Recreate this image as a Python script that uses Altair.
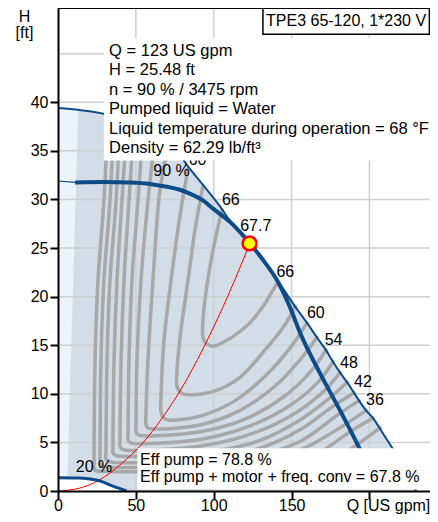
import altair as alt
import pandas as pd

FONT = "Liberation Sans"
X_MAX = 238.9
Y_MAX = 49.7

# ---------------- data ----------------
# maximum curve (thin blue)
MAX_Q = [0, 14, 30, 45, 60, 70, 79, 83.5, 93.1, 105.3, 110, 123.2, 132, 141.3, 152.2, 159.9,
         166.3, 172.1, 176.6, 181.1, 185.6, 190.1, 193.3, 197.8, 202.3, 208, 214.4, 220, 226, 230]
MAX_H = [39.4, 39.2, 38.8, 38.0, 36.8, 35.6, 34.4, 33.4, 31.5, 29.0, 27.9, 25.6, 23.8, 21.6, 19.0, 17.3,
         15.8, 14.5, 13.3, 12.2, 11.2, 10.1, 9.3, 8.3, 7.5, 6.1, 4.5, 3.0, 1.3, 0]
# left edge of the darker field
EDGE_Q = [6, 13]
EDGE_H = [1.37, 39.1]
# 90 % speed curve (thick)
N90_Q = [11, 30, 45, 59, 70, 78.3, 86, 93.1, 100, 110.4, 123.2, 132, 141.3, 149, 155.4, 168.3, 181.1, 193.3, 200, 206]
N90_H = [31.75, 31.8, 31.75, 31.6, 31.3, 31.0, 30.5, 29.9, 29.0, 27.7, 25.48, 23.7, 21.5, 18.9, 16.3, 12.1, 8.3, 4.5, 2.3, 0.4]
N90_THIN_Q = [0, 11]
N90_THIN_H = [31.9, 31.75]
# 20 % speed curve
N20_Q = [0, 13, 20.5, 27, 35.3, 44]
N20_H = [1.37, 1.35, 1.23, 1.03, 0.5, 0]
# system curve (red)
SYS_Q = [0, 14, 33, 41, 52.5, 68.6, 79.5, 93, 110, 123.2]
SYS_H = [0, 0.3, 1.8, 2.85, 4.6, 7.9, 10.6, 14.6, 20.4, 25.48]
# duty point
DUTY_Q = [123]
DUTY_H = [25.48]

# efficiency contours (eta [%] : Q list, H list)
CONTOURS = {
    66: ([105.3, 100.2, 95.7, 93.1, 93.1, 95.0, 99.6, 110.5, 122.0, 131.7, 137.4, 141.3],
         [28.9, 25.3, 21.2, 17.6, 15.8, 15.2, 14.9, 15.7, 17.1, 19.0, 20.5, 21.5]),
    63: ([93.1, 88.0, 83.5, 79.0, 76.4, 76.4, 79.0, 84.8, 100.8, 116.9, 132.9, 145.8, 152.2],
         [31.4, 26.9, 21.7, 16.6, 12.4, 10.8, 10.1, 9.9, 10.3, 11.7, 14.5, 17.1, 19.0]),
    60: ([83.5, 78.4, 72.6, 68.1, 66.2, 66.2, 68.1, 70.6, 91.2, 113.7, 132.9, 149.0, 159.9],
         [33.2, 28.4, 21.7, 15.5, 9.9, 8.1, 7.5, 7.3, 7.7, 9.3, 11.8, 14.7, 17.3]),
    57: ([70.6, 65.5, 61.0, 57.8, 56.5, 56.5, 57.8, 59.7, 91.2, 116.9, 139.4, 155.4, 166.3],
         [35.3, 31.0, 21.7, 13.5, 7.8, 6.8, 6.5, 6.4, 6.8, 8.3, 10.8, 13.5, 15.8]),
    54: ([62.3, 57.8, 53.3, 50.7, 50.1, 50.1, 51.4, 53.3, 91.2, 120.1, 145.8, 161.8, 172.1],
         [36.5, 29.9, 21.7, 13.5, 6.8, 6.1, 5.8, 5.7, 6.1, 7.4, 9.8, 12.2, 14.5]),
    51: ([54.6, 51.4, 47.5, 45.6, 45.0, 45.0, 46.2, 48.2, 91.2, 123.3, 149.0, 167.0, 176.6],
         [37.2, 29.9, 21.7, 13.5, 6.1, 5.3, 5.0, 4.9, 5.3, 6.7, 8.8, 11.2, 13.3]),
    48: ([48.8, 45.6, 42.4, 40.5, 39.8, 39.8, 41.1, 43.7, 91.2, 126.5, 152.2, 171.5, 181.1],
         [37.7, 29.9, 21.7, 13.5, 5.2, 4.6, 4.3, 4.2, 4.6, 6.0, 8.0, 10.4, 12.2]),
    45: ([44.3, 41.1, 37.9, 36.0, 35.3, 35.3, 36.6, 38.5, 91.2, 129.7, 155.4, 174.7, 185.6],
         [38.0, 29.9, 21.7, 13.5, 4.5, 3.9, 3.7, 3.6, 3.9, 5.2, 7.3, 9.6, 11.2]),
    42: ([39.8, 37.3, 33.4, 31.5, 30.8, 30.8, 32.1, 33.4, 91.2, 129.7, 155.4, 174.7, 190.1],
         [38.3, 29.9, 21.7, 13.5, 4.0, 3.3, 3.1, 3.0, 3.2, 4.4, 6.3, 8.5, 10.1]),
    39: ([36.0, 33.4, 29.5, 27.6, 27.0, 27.0, 28.3, 29.5, 91.2, 129.7, 155.4, 181.1, 193.3],
         [38.5, 29.9, 21.7, 13.5, 3.4, 2.8, 2.6, 2.5, 2.7, 3.7, 5.1, 8.0, 9.3]),
    36: ([32.1, 29.5, 25.7, 23.8, 23.1, 23.1, 24.4, 33.4, 91.2, 129.7, 155.4, 181.1, 197.8],
         [38.7, 29.9, 21.7, 13.5, 2.9, 2.3, 2.1, 2.0, 2.2, 3.0, 4.2, 6.5, 8.3]),
    33: ([52.7, 104.0, 142.6, 168.3, 187.5, 202.3],
         [1.1, 1.3, 2.2, 4.0, 6.1, 7.5]),
    30: ([65.5, 116.9, 155.4, 177.9, 194.0, 206.8],
         [0.3, 0.5, 1.3, 3.2, 5.0, 6.5]),
}

# curve labels
LBL_T = ["66", "67.7", "66", "60", "54", "48", "42", "36", "60", "90 %", "20 %"]
LBL_Q = [111.0, 127.0, 146.0, 165.6, 177.0, 186.8, 195.8, 203.5, 89.6, 72.9, 23.1]
LBL_H = [29.9, 27.3, 22.5, 18.3, 15.5, 13.2, 11.2, 9.4, 34.1, 32.9, 2.5]

INFO_LINES = ["Q = 123 US gpm", "H = 25.48 ft", "n = 90 % / 3475 rpm", "Pumped liquid = Water",
              "Liquid temperature during operation = 68 °F", "Density = 62.29 lb/ft³"]
INFO_H = [45.3, 43.3, 41.3, 39.3, 37.3, 35.3]
EFF_LINES = ["Eff pump = 78.8 %", "Eff pump + motor + freq. conv = 67.8 %"]
EFF_H = [3.2, 1.4]
TITLE = "TPE3 65-120, 1*230 V"

X_TICKS = [0, 50, 100, 150, 200]
Y_TICKS = [0, 5, 10, 15, 20, 25, 30, 35, 40]
H_GRID = [5, 10, 15, 20, 25, 30, 35, 40, 45]
V_GRID = [50, 100, 150, 200]

# ---------------- styling ----------------
LIGHT = "#ebf3fb"
DARK = "#d2dde8"
BLUE = "#0d4c89"
GRAY = "#a8a8a8"
GRID = "#cfcfcf"

xs = alt.Scale(domain=[0, X_MAX], nice=False, zero=False)
ys = alt.Scale(domain=[0, Y_MAX], nice=False, zero=False)

x_axis = alt.Axis(values=X_TICKS, labelExpr="datum.value == 200 ? '' : datum.label", grid=False,
                  domainColor="black", domainWidth=2, tickColor="black", tickWidth=2, tickSize=8,
                  labelFont=FONT, labelFontSize=16, labelColor="black", labelPadding=11,
                  labelBaseline="alphabetic", labelFlush=False,
                  title="Q [US gpm]", titleX=330, titleY=19, titleBaseline="alphabetic", titleAlign="center",
                  titleFont=FONT, titleFontSize=16, titleFontWeight="normal", titleColor="black", zindex=1)
y_axis = alt.Axis(values=Y_TICKS, grid=False, domainColor="black", domainWidth=2, tickColor="black",
                  tickWidth=2, tickSize=8, labelFont=FONT, labelFontSize=16, labelColor="black",
                  labelPadding=2, labelFlush=False, title=["H", "[ft]"], titleAngle=0, titleX=-34,
                  titleY=0, titleAlign="center", titleBaseline="top", titleLineHeight=16.5,
                  titleFont=FONT, titleFontSize=16, titleFontWeight="normal", titleColor="black", zindex=1)


def X(f="Q"):
    return alt.X(f"{f}:Q", scale=xs, axis=x_axis)


def Y(f="H"):
    return alt.Y(f"{f}:Q", scale=ys, axis=y_axis)


light_df = pd.DataFrame({"Q": MAX_Q[:2], "H": MAX_H[:2]})
dark_df = pd.DataFrame({"Q": EDGE_Q + MAX_Q[1:], "H": EDGE_H + MAX_H[1:]})
min_df = pd.DataFrame({"Q": N20_Q, "H": N20_H})

light = alt.Chart(light_df).mark_area(color=LIGHT, orient="vertical").encode(x=X(), y=Y())
dark = alt.Chart(dark_df).mark_area(color=DARK, orient="vertical").encode(x=X(), y=Y())
white_under = alt.Chart(min_df).mark_area(color="white", orient="vertical",
                                          interpolate="monotone").encode(x=X(), y=Y())

hgrid = alt.Chart(pd.DataFrame({"H": H_GRID})).mark_rule(color=GRID, strokeWidth=1.5).encode(y=Y())
vgrid = alt.Chart(pd.DataFrame({"Q": V_GRID})).mark_rule(color=GRID, strokeWidth=1.5).encode(x=X())

rows = []
for eta, (qs, hs) in CONTOURS.items():
    for i, (q, h) in enumerate(zip(qs, hs)):
        rows.append({"c": eta, "i": i, "Q": q, "H": h})
cont_df = pd.DataFrame(rows)
contours = alt.Chart(cont_df).mark_line(color=GRAY, strokeWidth=3.5, interpolate="catmull-rom",
                                        strokeCap="round", strokeJoin="round").encode(
    x=X(), y=Y(), detail="c:N", order="i:Q")

sys_line = alt.Chart(pd.DataFrame({"Q": SYS_Q, "H": SYS_H})).mark_line(
    color="#ff0000", strokeWidth=1, interpolate="monotone").encode(x=X(), y=Y())

max_line = alt.Chart(pd.DataFrame({"Q": MAX_Q, "H": MAX_H})).mark_line(
    color=BLUE, strokeWidth=2, interpolate="monotone").encode(x=X(), y=Y())
n90_thin = alt.Chart(pd.DataFrame({"Q": N90_THIN_Q, "H": N90_THIN_H})).mark_line(
    color=BLUE, strokeWidth=1.2).encode(x=X(), y=Y())
n90 = alt.Chart(pd.DataFrame({"Q": N90_Q, "H": N90_H})).mark_line(
    color=BLUE, strokeWidth=4, interpolate="monotone").encode(x=X(), y=Y())
n20 = alt.Chart(min_df).mark_line(color=BLUE, strokeWidth=3, interpolate="monotone").encode(x=X(), y=Y())

duty = alt.Chart(pd.DataFrame({"Q": DUTY_Q, "H": DUTY_H})).mark_point(
    filled=True, fill="#ffff00", stroke="#ff0000", strokeWidth=2.5, size=190, opacity=1).encode(x=X(), y=Y())

labels = alt.Chart(pd.DataFrame({"Q": LBL_Q, "H": LBL_H, "t": LBL_T})).mark_text(
    font=FONT, fontSize=16, color="black", align="center", baseline="middle").encode(
    x=X(), y=Y(), text="t:N")

box_df = pd.DataFrame({"x1": [29.5, 51.0], "x2": [X_MAX, X_MAX], "y1": [34.0, 0.15], "y2": [46.6, 4.4]})
boxes = alt.Chart(box_df).mark_rect(color="white", opacity=1).encode(
    x=X("x1"), x2="x2", y=Y("y1"), y2="y2")

info = alt.Chart(pd.DataFrame({"Q": [32.8] * len(INFO_LINES), "H": INFO_H, "t": INFO_LINES})).mark_text(
    font=FONT, fontSize=16.5, color="black", align="left", baseline="middle").encode(
    x=X(), y=Y(), text="t:N")
eff = alt.Chart(pd.DataFrame({"Q": [52.7] * len(EFF_LINES), "H": EFF_H, "t": EFF_LINES})).mark_text(
    font=FONT, fontSize=16, color="black", align="left", baseline="middle").encode(
    x=X(), y=Y(), text="t:N")

title_box = alt.Chart(pd.DataFrame({"x1": [131.6], "x2": [X_MAX - 0.4], "y1": [47.0], "y2": [Y_MAX]})).mark_rect(
    fill="white", stroke="black", strokeWidth=1.5).encode(x=X("x1"), x2="x2", y=Y("y1"), y2="y2")
title_txt = alt.Chart(pd.DataFrame({"Q": [185.0], "H": [48.4], "t": [TITLE]})).mark_text(
    font=FONT, fontSize=16, color="black", align="center", baseline="middle").encode(
    x=X(), y=Y(), text="t:N")

top_rule = alt.Chart(pd.DataFrame({"H": [Y_MAX]})).mark_rule(color="black", strokeWidth=2).encode(y=Y())

chart = alt.layer(
    light, dark, white_under, hgrid, vgrid, contours, sys_line, max_line, n90_thin, n90, n20,
    duty, labels, boxes, info, eff, title_box, title_txt, top_rule
).properties(
    width=372, height=483,
    padding={"left": 50, "top": 0, "right": 0, "bottom": 23},
    autosize="none",
).configure_view(stroke=None)

chart.save("out.html", embed_options={"renderer": "svg", "actions": False})
